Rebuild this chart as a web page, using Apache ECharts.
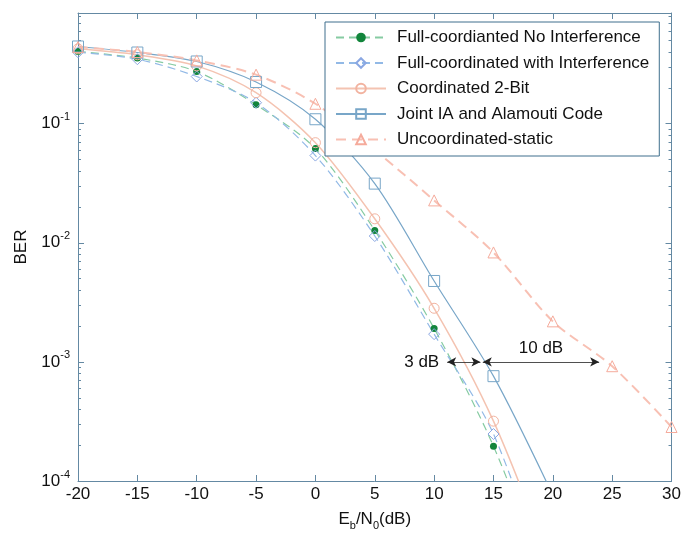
<!DOCTYPE html>
<html>
<head>
<meta charset="utf-8">
<title>BER vs Eb/N0</title>
<script src="https://cdn.jsdelivr.net/npm/echarts@6/dist/echarts.min.js"></script>
<style>
  html, body { margin: 0; padding: 0; background: #fff; }
  #chart { width: 684px; height: 536px; }
</style>
</head>
<body>
<div id="chart"></div>
<script>
// Eb/N0 points (dB)
const snrDb = [-20, -15, -10, -5, 0, 5, 10, 15, 20, 25, 30];
// BER (last point of the steep curves lies below 1e-4, clipped)
const berFullNoInterf = [0.404, 0.356, 0.274, 0.144, 0.0618, 0.0127, 0.00191, 0.000196, 0.00001];
const berFullInterf = [0.398, 0.348, 0.249, 0.150, 0.054, 0.0114, 0.00171, 0.000248, 0.00001];
const berCoord2Bit = [0.425, 0.379, 0.306, 0.182, 0.0693, 0.0159, 0.00282, 0.000318, 0.0000176];
const berJointIA = [0.445, 0.396, 0.333, 0.224, 0.109, 0.0314, 0.00478, 0.000759, 0.000076];
const berUncoord = [0.44, 0.40, 0.34, 0.258, 0.147, 0.06, 0.0227, 0.0083, 0.00219, 0.00092, 0.000284];

const seriesNames = [
  'Full-coordianted No Interference',
  'Full-coordinated with Interference',
  'Coordinated 2-Bit',
  'Joint IA and Alamouti Code',
  'Uncoordinated-static'
];

// annotation arrows at BER = 1e-3
const arrow3dB = [11.1, 13.9];
const arrow10dB = [14.1, 23.9];
const arrowBer = 1e-3;

const yMin = 1e-4;
const yMax = 0.85;
const minorTicks = [];
for (let e = -4; e < 0; e++) {
  for (let m = 2; m <= 9; m++) {
    const v = m * Math.pow(10, e);
    if (v < yMax) minorTicks.push(v);
  }
}

const font = 'Arial, "Liberation Sans", sans-serif';
const axisColor = '#6489a3';

const pairs = (ber) => ber.map((v, i) => [snrDb[i], v]);

const expLabel = (value) => {
  const lg = Math.log10(value);
  const e = Math.round(lg);
  if (Math.abs(lg - e) > 1e-6) return '';
  return '{b|10}{s|' + e + '}';
};

const chart = echarts.init(document.getElementById('chart'));

const baseY = {
  type: 'log',
  logBase: 10,
  min: yMin,
  max: yMax,
  splitLine: { show: false },
  axisLine: { show: true, onZero: false, lineStyle: { color: axisColor, width: 1 } }
};
const baseX = {
  type: 'value',
  min: -20,
  max: 30,
  interval: 5,
  splitLine: { show: false },
  axisLine: { show: true, onZero: false, lineStyle: { color: axisColor, width: 1 } }
};

const option = {
  animation: false,
  backgroundColor: '#fff',
  grid: { left: 78, right: 12, top: 13, bottom: 54 },
  legend: {
    orient: 'vertical',
    left: 325,
    top: 22,
    padding: [7, 10, 8, 10],
    itemWidth: 50,
    itemHeight: 12,
    itemGap: 8.5,
    backgroundColor: '#fff',
    borderColor: '#3f6f8d',
    borderWidth: 1,
    textStyle: { fontSize: 17, fontFamily: font, color: '#111', padding: [0, 0, 0, 6] },
    data: seriesNames
  },
  xAxis: [
    Object.assign({}, baseX, {
      position: 'bottom',
      axisTick: { show: true, inside: true, length: 6, lineStyle: { color: axisColor } },
      axisLabel: { fontSize: 17, fontFamily: font, color: '#111', margin: 5 },
      name: '{n|E}{sub|b}{n|/N}{sub|0}{n|(dB)}',
      nameLocation: 'middle',
      nameGap: 26,
      nameTextStyle: {
        rich: {
          n: { fontSize: 17, fontFamily: font, color: '#111', lineHeight: 24, verticalAlign: 'middle' },
          sub: { fontSize: 11, fontFamily: font, color: '#111', lineHeight: 11, verticalAlign: 'bottom' }
        }
      }
    }),
    Object.assign({}, baseX, {
      position: 'top',
      axisTick: { show: true, inside: true, length: 6, lineStyle: { color: axisColor } },
      axisLabel: { show: false }
    })
  ],
  yAxis: [
    Object.assign({}, baseY, {
      position: 'left',
      axisTick: { show: true, inside: true, length: 6, lineStyle: { color: axisColor } },
      axisLabel: {
        margin: 8,
        formatter: expLabel,
        rich: {
          b: { fontSize: 17, fontFamily: font, color: '#111', lineHeight: 24, verticalAlign: 'middle' },
          s: { fontSize: 11, fontFamily: font, color: '#111', lineHeight: 11, verticalAlign: 'top' }
        }
      },
      name: 'BER',
      nameLocation: 'middle',
      nameGap: 48,
      nameTextStyle: { fontSize: 17, fontFamily: font, color: '#111' }
    }),
    Object.assign({}, baseY, {
      position: 'right',
      axisTick: { show: true, inside: true, length: 6, lineStyle: { color: axisColor } },
      axisLabel: { show: false }
    }),
    Object.assign({}, baseY, {
      position: 'left',
      axisLine: { show: false, onZero: false },
      axisTick: { show: true, inside: true, length: 3, customValues: minorTicks, lineStyle: { color: axisColor } },
      axisLabel: { show: false }
    }),
    Object.assign({}, baseY, {
      position: 'right',
      axisLine: { show: false, onZero: false },
      axisTick: { show: true, inside: true, length: 3, customValues: minorTicks, lineStyle: { color: axisColor } },
      axisLabel: { show: false }
    })
  ],
  series: [
    {
      name: seriesNames[0],
      type: 'line',
      data: pairs(berFullNoInterf),
      smooth: 0.3,
      clip: true,
      symbol: 'circle',
      symbolSize: 7,
      itemStyle: { color: '#12853b' },
      lineStyle: { color: '#86cba2', width: 1.2, type: [8, 5] }
    },
    {
      name: seriesNames[1],
      type: 'line',
      data: pairs(berFullInterf),
      smooth: 0.3,
      clip: true,
      symbol: 'diamond',
      symbolSize: 11,
      itemStyle: { color: 'rgba(255,255,255,0)', borderColor: '#8aa7e2', borderWidth: 1 },
      lineStyle: { color: '#92b9e6', width: 1.2, type: [8, 5] }
    },
    {
      name: seriesNames[2],
      type: 'line',
      data: pairs(berCoord2Bit),
      smooth: 0.3,
      clip: true,
      symbol: 'circle',
      symbolSize: 10,
      itemStyle: { color: 'rgba(255,255,255,0)', borderColor: '#f2b3a0', borderWidth: 1 },
      lineStyle: { color: '#f4c3b1', width: 1.5 }
    },
    {
      name: seriesNames[3],
      type: 'line',
      data: pairs(berJointIA),
      smooth: 0.3,
      clip: true,
      symbol: 'rect',
      symbolSize: 11,
      itemStyle: { color: 'rgba(255,255,255,0)', borderColor: '#78a6c8', borderWidth: 1 },
      lineStyle: { color: '#78a6c8', width: 1.2 },
      markLine: {
        silent: true,
        symbol: ['arrow', 'arrow'],
        symbolSize: [7, 9],
        lineStyle: { color: '#222', width: 0.8, type: 'solid' },
        label: { show: true, fontSize: 17, fontFamily: font, color: '#111' },
        data: [
          [
            { coord: [arrow3dB[0], arrowBer], label: { position: 'start', formatter: '3 dB', distance: 8 } },
            { coord: [arrow3dB[1], arrowBer] }
          ],
          [
            { coord: [arrow10dB[0], arrowBer], label: { position: 'middle', formatter: '10 dB' } },
            { coord: [arrow10dB[1], arrowBer] }
          ]
        ]
      }
    },
    {
      name: seriesNames[4],
      type: 'line',
      data: pairs(berUncoord),
      smooth: 0.3,
      clip: true,
      symbol: 'triangle',
      symbolSize: 11,
      itemStyle: { color: 'rgba(255,255,255,0)', borderColor: '#f5ab9c', borderWidth: 1 },
      lineStyle: { color: '#f8c0b3', width: 2, type: [10, 6] }
    }
  ]
};

chart.setOption(option);
</script>
</body>
</html>
